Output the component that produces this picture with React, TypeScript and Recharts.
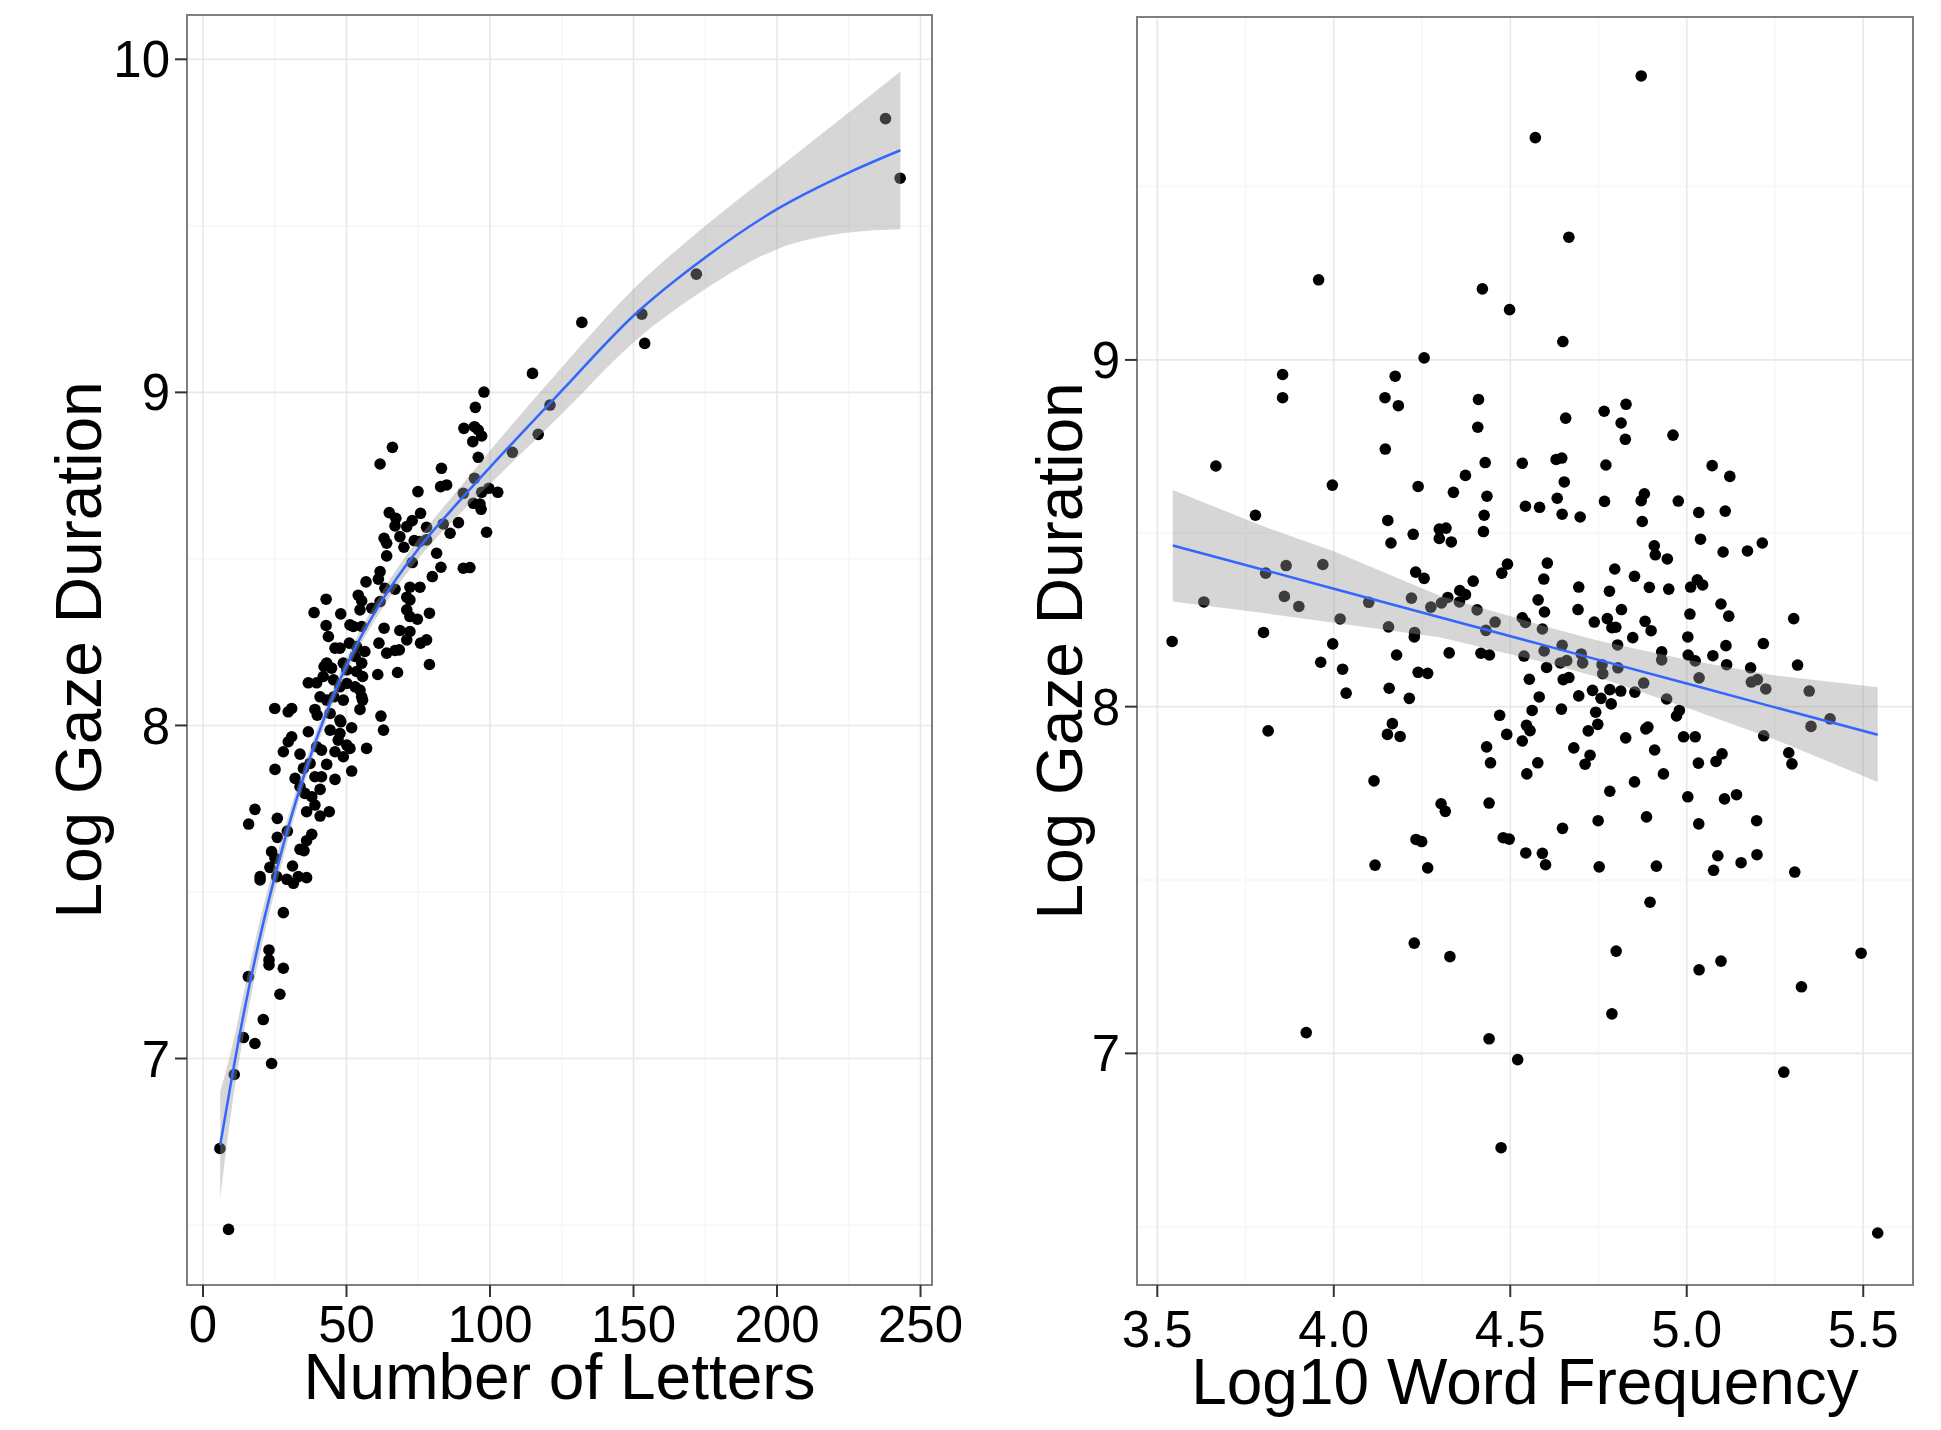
import { ComposedChart, Scatter, Line, Area, XAxis, YAxis, CartesianGrid, ReferenceArea, Label } from 'recharts';

const FONT = '"Liberation Sans", Arial, Helvetica, sans-serif';

// left panel: number of letters vs log gaze duration
const letterTicks = [0, 50, 100, 150, 200, 250];
const letterMinorTicks = [25, 75, 125, 175, 225];
const letterYTicks = [7, 8, 9, 10];
const letterYMinor = [6.5, 7.5, 8.5, 9.5];

const letterPoints = [
  [64.9, 8.639], [67.2, 8.622], [66.9, 8.599], [71.0, 8.597], [72.9, 8.615], [75.8, 8.637], [77.9, 8.595], [68.6, 8.567],
  [70.0, 8.535], [63.1, 8.562], [64.0, 8.547], [73.6, 8.555], [75.4, 8.552], [77.9, 8.557], [83.7, 8.605], [86.1, 8.577],
  [89.0, 8.609], [81.4, 8.517], [64.0, 8.509], [72.9, 8.489], [82.9, 8.475], [61.7, 8.462], [61.1, 8.439], [56.8, 8.431],
  [79.9, 8.447], [90.7, 8.472], [93.0, 8.474], [98.8, 8.580], [96.5, 8.665], [94.2, 8.667], [63.4, 8.412], [66.9, 8.409],
  [72.1, 8.415], [75.6, 8.415], [71.0, 8.385], [72.1, 8.377], [54.1, 8.391], [55.3, 8.374], [42.9, 8.379], [38.7, 8.339],
  [48.0, 8.335], [54.7, 8.347], [58.8, 8.352], [61.7, 8.372], [71.0, 8.347], [72.1, 8.327], [74.7, 8.319], [78.9, 8.337],
  [42.9, 8.300], [43.7, 8.267], [51.2, 8.302], [52.4, 8.297], [55.3, 8.297], [63.1, 8.292], [68.6, 8.285], [72.1, 8.282],
  [71.0, 8.257], [75.8, 8.247], [77.9, 8.257], [61.3, 8.247], [64.0, 8.217], [66.9, 8.225], [68.4, 8.227], [78.9, 8.183],
  [67.8, 8.159], [60.9, 8.153], [46.0, 8.232], [47.7, 8.232], [51.0, 8.247], [53.5, 8.237], [56.4, 8.222], [53.0, 8.207],
  [55.3, 8.187], [43.1, 8.187], [42.2, 8.177], [44.8, 8.172], [48.9, 8.187], [50.1, 8.167], [53.5, 8.162], [55.6, 8.147],
  [36.7, 8.128], [39.6, 8.128], [41.9, 8.147], [45.5, 8.137], [47.7, 8.116], [50.1, 8.126], [53.0, 8.116], [54.7, 8.106],
  [55.3, 8.086], [55.6, 8.076], [40.8, 8.086], [43.1, 8.076], [45.6, 8.086], [48.9, 8.076], [54.7, 8.048], [39.0, 8.048],
  [39.8, 8.031], [44.3, 8.036], [47.7, 8.016], [62.0, 8.028], [62.9, 7.986], [25.0, 8.051], [29.7, 8.041], [30.9, 8.051],
  [36.7, 7.981], [44.3, 7.986], [48.0, 8.011], [51.8, 7.993], [47.7, 7.976], [30.9, 7.966], [29.7, 7.951], [47.1, 7.956],
  [50.1, 7.941], [51.2, 7.931], [48.9, 7.906], [57.0, 7.931], [28.0, 7.921], [33.8, 7.914], [39.6, 7.936], [41.3, 7.926],
  [46.0, 7.921], [37.3, 7.886], [43.1, 7.883], [51.8, 7.863], [25.1, 7.868], [32.1, 7.841], [35.0, 7.871], [39.0, 7.846],
  [41.3, 7.846], [46.0, 7.838], [40.8, 7.808], [33.8, 7.816], [35.5, 7.796], [37.9, 7.786], [39.0, 7.761], [36.1, 7.741],
  [40.8, 7.728], [44.0, 7.741], [18.1, 7.748], [15.9, 7.704], [25.9, 7.721], [29.4, 7.683], [37.9, 7.673], [36.1, 7.654],
  [25.9, 7.664], [33.8, 7.628], [35.2, 7.624], [23.9, 7.621], [25.1, 7.601], [23.3, 7.574], [31.2, 7.578], [19.9, 7.546],
  [19.9, 7.536], [25.7, 7.546], [29.2, 7.538], [31.5, 7.526], [33.2, 7.546], [36.1, 7.543], [28.0, 7.438],
  [15.8, 7.246], [23.0, 7.326], [23.0, 7.296], [23.0, 7.281], [28.0, 7.271], [26.8, 7.193], [21.0, 7.117], [14.1, 7.063],
  [18.1, 7.045], [23.9, 6.985], [10.9, 6.952], [5.9, 6.730], [8.9, 6.487],
  [237.8, 9.822], [242.9, 9.643], [171.9, 9.355], [152.9, 9.235], [153.9, 9.147], [132.0, 9.210], [114.8, 9.057], [120.9, 8.962],
  [116.8, 8.874], [107.8, 8.820], [97.9, 9.001], [94.9, 8.955], [90.9, 8.892], [94.6, 8.897], [95.9, 8.887], [97.1, 8.869],
  [94.0, 8.852], [66.0, 8.835], [95.9, 8.805], [61.7, 8.785], [83.1, 8.772], [82.8, 8.717], [84.9, 8.722], [74.9, 8.702],
  [94.6, 8.742], [90.7, 8.697], [97.1, 8.700], [99.6, 8.712], [102.7, 8.700], [96.9, 8.649],
];

// smoother curve and its confidence band
const letterFitX = [6, 10, 15, 20, 27, 33, 40, 50, 62, 75, 90, 100, 125, 150, 175, 200, 225, 243];
const letterFitY = [6.74, 6.94, 7.17, 7.37, 7.61, 7.79, 7.97, 8.18, 8.37, 8.53, 8.68, 8.775, 9.005, 9.23, 9.405, 9.55, 9.66, 9.727];
const letterFitLo = [6.58, 6.85, 7.11, 7.32, 7.57, 7.76, 7.945, 8.158, 8.345, 8.50, 8.64, 8.725, 8.935, 9.15, 9.31, 9.43, 9.48, 9.49];
const letterFitHi = [6.90, 7.03, 7.23, 7.42, 7.65, 7.82, 7.995, 8.202, 8.395, 8.56, 8.72, 8.825, 9.075, 9.31, 9.50, 9.67, 9.84, 9.963];

// right panel: log10 word frequency vs log gaze duration
const freqTicks = [3.5, 4.0, 4.5, 5.0, 5.5];
const freqMinorTicks = [3.75, 4.25, 4.75, 5.25];
const freqYTicks = [7, 8, 9];
const freqYMinor = [6.5, 7.5, 8.5, 9.5];

const freqPoints = [
  [3.957, 9.231], [4.421, 9.205], [4.498, 9.145], [4.256, 9.006], [4.871, 9.819], [4.571, 9.641], [4.666, 9.354], [4.649, 9.053],
  [3.855, 8.958], [3.855, 8.891], [3.666, 8.694], [3.996, 8.639], [3.778, 8.552], [4.145, 8.891], [4.174, 8.953], [4.183, 8.868],
  [4.146, 8.743], [4.410, 8.886], [4.408, 8.806], [4.429, 8.704], [4.534, 8.702], [4.373, 8.667], [4.239, 8.635], [4.339, 8.618],
  [4.434, 8.607], [4.426, 8.552], [4.543, 8.578], [4.583, 8.575], [4.153, 8.537], [4.225, 8.497], [4.162, 8.472], [4.424, 8.505],
  [4.299, 8.512], [4.318, 8.515], [4.299, 8.485], [4.333, 8.475], [3.969, 8.410], [3.865, 8.407], [3.807, 8.385], [4.232, 8.388],
  [4.256, 8.370], [4.395, 8.362], [4.476, 8.385], [4.492, 8.411], [4.605, 8.414], [4.595, 8.368], [3.632, 8.302], [3.860, 8.318],
  [3.901, 8.289], [4.099, 8.301], [4.220, 8.313], [4.275, 8.287], [4.305, 8.299], [4.323, 8.315], [4.357, 8.335], [4.373, 8.323],
  [4.356, 8.302], [4.406, 8.279], [4.579, 8.308], [4.597, 8.273], [4.018, 8.253], [4.155, 8.230], [4.229, 8.214], [4.228, 8.201],
  [4.431, 8.220], [4.457, 8.244], [4.534, 8.256], [4.543, 8.243], [4.591, 8.224], [3.542, 8.188], [3.801, 8.214], [3.997, 8.181],
  [4.178, 8.149], [4.327, 8.155], [4.417, 8.154], [4.441, 8.149], [4.539, 8.146], [4.596, 8.161], [3.963, 8.128], [4.025, 8.108],
  [4.035, 8.039], [4.239, 8.099], [4.266, 8.096], [4.554, 8.079], [4.603, 8.113], [4.157, 8.053], [4.214, 8.024], [4.582, 8.028],
  [4.562, 7.989], [4.470, 7.975], [4.490, 7.920], [4.546, 7.946], [4.556, 7.931], [4.534, 7.901], [3.814, 7.930], [4.166, 7.951],
  [4.152, 7.920], [4.188, 7.914], [4.433, 7.884], [4.444, 7.838], [4.578, 7.838], [4.547, 7.806], [4.114, 7.786], [4.304, 7.720],
  [4.316, 7.698], [4.440, 7.722], [4.233, 7.617], [4.249, 7.611], [4.480, 7.622], [4.497, 7.618],
  [4.544, 7.578], [4.117, 7.543], [4.266, 7.535], [4.228, 7.318], [4.329, 7.279], [3.922, 7.060], [4.440, 7.042], [4.521, 6.982],
  [4.474, 6.728],
  [4.657, 8.832], [4.766, 8.852], [4.828, 8.872], [4.814, 8.818], [4.826, 8.771], [4.961, 8.783], [4.646, 8.717], [4.630, 8.713],
  [4.771, 8.697], [4.653, 8.648], [4.633, 8.601], [4.647, 8.555], [4.698, 8.547], [4.767, 8.592], [4.871, 8.594], [4.880, 8.614],
  [4.976, 8.593], [4.874, 8.534], [5.034, 8.560], [5.109, 8.564], [5.072, 8.695], [5.122, 8.664], [5.039, 8.483], [4.908, 8.464],
  [4.911, 8.438], [4.945, 8.426], [5.103, 8.446], [5.172, 8.449], [5.214, 8.472], [4.796, 8.397], [4.852, 8.376], [4.694, 8.345],
  [4.781, 8.333], [4.894, 8.344], [4.949, 8.339], [5.011, 8.345], [5.030, 8.366], [5.045, 8.351], [4.692, 8.280], [4.815, 8.280],
  [5.009, 8.267], [5.097, 8.296], [5.119, 8.261], [5.303, 8.254], [4.738, 8.244], [4.775, 8.254], [4.788, 8.228], [4.799, 8.229],
  [4.882, 8.246], [4.899, 8.219], [4.847, 8.199], [5.003, 8.201], [5.217, 8.182], [5.111, 8.176], [5.074, 8.147], [4.929, 8.158],
  [4.929, 8.135], [5.004, 8.149], [5.024, 8.132], [4.804, 8.178], [4.647, 8.177], [4.701, 8.152], [4.705, 8.126], [4.660, 8.133],
  [4.642, 8.126], [4.760, 8.121], [4.762, 8.095], [4.805, 8.112], [5.113, 8.121], [5.181, 8.112], [5.314, 8.120], [5.035, 8.083],
  [5.183, 8.071], [5.200, 8.078], [5.224, 8.051], [5.347, 8.045], [4.650, 8.078], [4.666, 8.084], [4.878, 8.068], [4.733, 8.047],
  [4.782, 8.049], [4.813, 8.045], [4.694, 8.031], [4.757, 8.024], [4.853, 8.042], [4.943, 8.022], [4.786, 8.008], [4.645, 7.993],
  [4.742, 7.984], [4.979, 7.989], [4.971, 7.973], [5.406, 7.965], [5.352, 7.943], [5.218, 7.916], [4.748, 7.949], [4.721, 7.930],
  [4.827, 7.910], [4.884, 7.936], [4.890, 7.941], [4.991, 7.913], [5.024, 7.913], [4.680, 7.881], [4.726, 7.860], [4.712, 7.834],
  [4.909, 7.875], [5.033, 7.837], [5.083, 7.842], [5.100, 7.864], [5.289, 7.867], [5.298, 7.835], [4.934, 7.806], [4.782, 7.756],
  [4.852, 7.783], [5.003, 7.740], [5.107, 7.734], [5.141, 7.746], [4.648, 7.649], [4.749, 7.671], [4.886, 7.682], [5.034, 7.662],
  [5.198, 7.671],
  [4.591, 7.577], [4.600, 7.544], [4.752, 7.538], [4.914, 7.540], [5.088, 7.570], [5.076, 7.528], [5.154, 7.550], [5.199, 7.573],
  [5.306, 7.523], [4.896, 7.436], [4.800, 7.295], [5.035, 7.241], [5.097, 7.266], [5.494, 7.289], [5.325, 7.192], [4.788, 7.114],
  [5.275, 6.946], [5.541, 6.482],
];

const freqFitX = [3.544, 3.8, 4.0, 4.3, 4.6, 4.75, 5.0, 5.25, 5.541];
const freqFitY = [8.465, 8.395, 8.340, 8.258, 8.176, 8.135, 8.067, 7.998, 7.919];
const freqFitLo = [8.303, 8.270, 8.242, 8.200, 8.127, 8.085, 7.997, 7.905, 7.783];
const freqFitHi = [8.625, 8.520, 8.448, 8.320, 8.231, 8.190, 8.135, 8.090, 8.056];

const toPoints = (pairs: number[][]) => pairs.map(([x, y]) => ({ x, y }));
const toFit = (xs: number[], ys: number[], lo: number[], hi: number[]) =>
  xs.map((x, i) => ({ x, y: ys[i], band: [lo[i], hi[i]] }));

const lettersData = toPoints(letterPoints);
const lettersFit = toFit(letterFitX, letterFitY, letterFitLo, letterFitHi);
const freqData = toPoints(freqPoints);
const freqFit = toFit(freqFitX, freqFitY, freqFitLo, freqFitHi);

const tickStyle = { fontSize: 51, fill: '#000', fontFamily: FONT };
const tickLine = { stroke: '#333', strokeWidth: 2 };

const Dot = (props: any) => <circle cx={props.cx} cy={props.cy} r={5.8} fill="#000" />;

const xTitle = (text: string, dy: number) => (props: any) => {
  const vb = props.viewBox;
  return (
    <text x={vb.x + vb.width / 2} y={vb.y + dy} textAnchor="middle" fontSize={64} fontFamily={FONT} fill="#000">
      {text}
    </text>
  );
};

const yTitle = (text: string, bx: number) => (props: any) => {
  const vb = props.viewBox;
  const cy = vb.y + vb.height / 2;
  return (
    <text transform={`translate(${vb.x + bx}, ${cy}) rotate(-90)`} textAnchor="middle" fontSize={64} fontFamily={FONT} fill="#000">
      {text}
    </text>
  );
};

function Panel(props: {
  width: number; right: number; top: number; yAxisWidth: number;
  xDomain: number[]; yDomain: number[];
  xTicks: number[]; xMinor: number[]; yTicks: number[]; yMinor: number[];
  points: any[]; fit: any[]; curve: 'monotone' | 'linear';
  xLabel: string; xLabelDy: number; yLabelX: number; xTickGap: number; fmt?: (v: number) => string;
}) {
  const { xDomain, yDomain } = props;
  return (
    <ComposedChart width={props.width} height={1430} data={props.fit}
      margin={{ top: props.top, right: props.right, bottom: 0, left: 0 }}>
      <CartesianGrid verticalValues={props.xMinor} horizontalValues={props.yMinor} stroke="#f7f7f7" strokeWidth={1.6} />
      <CartesianGrid verticalValues={props.xTicks} horizontalValues={props.yTicks} stroke="#e8e8e8" strokeWidth={1.6} />
      <XAxis type="number" dataKey="x" domain={xDomain} ticks={props.xTicks} interval={0} allowDataOverflow
        height={145} axisLine={false} tickSize={12} tickMargin={props.xTickGap} tickLine={tickLine} tick={tickStyle}
        tickFormatter={props.fmt}>
        <Label content={xTitle(props.xLabel, props.xLabelDy)} />
      </XAxis>
      <YAxis type="number" dataKey="y" domain={yDomain} ticks={props.yTicks} interval={0} allowDataOverflow
        width={props.yAxisWidth} axisLine={false} tickSize={12} tickMargin={5} tickLine={tickLine} tick={tickStyle}>
        <Label content={yTitle('Log Gaze Duration', props.yLabelX)} />
      </YAxis>
      <Scatter data={props.points} shape={Dot} isAnimationActive={false} zIndex={50} />
      <Area type={props.curve} dataKey="band" fill="#999999" fillOpacity={0.4} stroke="none" isAnimationActive={false} zIndex={100} />
      <Line type={props.curve} dataKey="y" stroke="#3366FF" strokeWidth={2.5} dot={false} activeDot={false} isAnimationActive={false} zIndex={400} />
      <ReferenceArea x1={xDomain[0]} x2={xDomain[1]} y1={yDomain[0]} y2={yDomain[1]} fill="none" fillOpacity={0}
        stroke="#7f7f7f" strokeWidth={2} />
    </ComposedChart>
  );
}

export default function App() {
  return (
    <div style={{ position: 'absolute', left: 0, top: 0, width: 1941, height: 1430, background: '#fff' }}>
      <div style={{ position: 'absolute', left: 0, top: 0 }}>
        <Panel width={990} right={58} top={15} yAxisWidth={187} xDomain={[-5.57, 254]} yDomain={[6.32, 10.133]}
          xTicks={letterTicks} xMinor={letterMinorTicks} yTicks={letterYTicks} yMinor={letterYMinor}
          points={lettersData} fit={lettersFit} curve="monotone" xTickGap={9}
          xLabel="Number of Letters" xLabelDy={114} yLabelX={101} />
      </div>
      <div style={{ position: 'absolute', left: 960, top: 0 }}>
        <Panel width={981} right={28} top={17} yAxisWidth={177} xDomain={[3.4425, 5.641]} yDomain={[6.332, 9.989]}
          xTicks={freqTicks} xMinor={freqMinorTicks} yTicks={freqYTicks} yMinor={freqYMinor}
          points={freqData} fit={freqFit} curve="linear" fmt={(v: number) => v.toFixed(1)} xTickGap={14}
          xLabel="Log10 Word Frequency" xLabelDy={119} yLabelX={122} />
      </div>
    </div>
  );
}
